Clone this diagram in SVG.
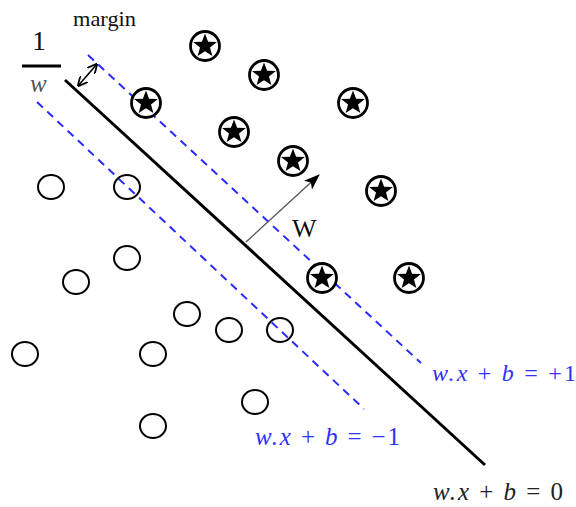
<svg xmlns="http://www.w3.org/2000/svg" width="576" height="507" viewBox="0 0 576 507">
<style>
.pos{fill:#fff;stroke:#000;stroke-width:2.8}
.neg{fill:none;stroke:#000;stroke-width:2}
.dash{stroke:#2a2aff;stroke-width:2;stroke-dasharray:8 6;fill:none}
.serif{font-family:"Liberation Serif","Times New Roman",serif}
.it{font-style:italic}
.blue{fill:#3030ff}
</style>
<defs>
<g id="star">
<circle r="14.5" class="pos"/>
<path d="M0,-12.5 L3.1,-4.2 L11.9,-3.9 L5,1.6 L7.35,10.1 L0,5.2 L-7.35,10.1 L-5,1.6 L-11.9,-3.9 L-3.1,-4.2 Z" fill="#000"/>
</g>
<marker id="ah" viewBox="0 0 16 12" refX="15" refY="6" markerWidth="16" markerHeight="12" markerUnits="userSpaceOnUse" orient="auto">
<path d="M0,0 L16,6 L0,12 L4,6 Z" fill="#000"/>
</marker>
<marker id="mh" viewBox="0 0 10 10" refX="9.5" refY="5" markerWidth="10" markerHeight="10" markerUnits="userSpaceOnUse" orient="auto-start-reverse">
<path d="M0,0 L10,5 L0,10" fill="none" stroke="#000" stroke-width="1.8"/>
</marker>
</defs>
<rect width="576" height="507" fill="#fff"/>
<g id="connectors">
<line x1="65" y1="80" x2="485" y2="465" stroke="#000" stroke-width="3"/>
<line class="dash" x1="88" y1="55" x2="421" y2="363"/>
<line class="dash" x1="37" y1="102" x2="364" y2="409"/>
<line id="w-arrow" x1="246" y1="242" x2="319" y2="175" stroke="#555" stroke-width="1.3" marker-end="url(#ah)"/>
<line id="margin-arrow" x1="78" y1="86" x2="97" y2="64" stroke="#000" stroke-width="1.6" marker-start="url(#mh)" marker-end="url(#mh)"/>
</g>
<g id="positives">
<use href="#star" x="205" y="46"/>
<use href="#star" x="264" y="75"/>
<use href="#star" x="146" y="103"/>
<use href="#star" x="353" y="103"/>
<use href="#star" x="234" y="132"/>
<use href="#star" x="293" y="161"/>
<use href="#star" x="381" y="191"/>
<use href="#star" x="322" y="278"/>
<use href="#star" x="409" y="278"/>
</g>
<g id="negatives">
<ellipse class="neg" cx="51" cy="187" rx="13" ry="12"/>
<ellipse class="neg" cx="127" cy="187" rx="13" ry="12"/>
<ellipse class="neg" cx="127" cy="258" rx="13" ry="12"/>
<ellipse class="neg" cx="76" cy="282" rx="13" ry="12"/>
<ellipse class="neg" cx="187" cy="314" rx="13" ry="12"/>
<ellipse class="neg" cx="229" cy="330" rx="13" ry="12"/>
<ellipse class="neg" cx="280" cy="330" rx="13" ry="12"/>
<ellipse class="neg" cx="25" cy="354" rx="13" ry="12"/>
<ellipse class="neg" cx="153" cy="354" rx="13" ry="12"/>
<ellipse class="neg" cx="255" cy="402" rx="13" ry="12"/>
<ellipse class="neg" cx="153" cy="426" rx="13" ry="12"/>
</g>
<g id="margin-label">
<text class="serif" x="73" y="26" font-size="21" fill="#111" textLength="63" lengthAdjust="spacingAndGlyphs">margin</text>
<text class="serif" x="32" y="50" font-size="28" fill="#111">1</text>
<line x1="22" y1="66" x2="61" y2="66" stroke="#000" stroke-width="3"/>
<text class="serif it" x="30" y="92" font-size="25" fill="#555">w</text>
</g>
<g id="w-label">
<text class="serif" x="292" y="237" font-size="26" fill="#111">W</text>
</g>
<g id="eq-plus">
<text class="serif blue" x="432" y="381" font-size="24" textLength="144" lengthAdjust="spacing"><tspan class="it">w.x</tspan> + <tspan class="it">b</tspan> = +1</text>
</g>
<g id="eq-minus">
<text class="serif blue" x="255" y="445" font-size="25" textLength="145" lengthAdjust="spacing"><tspan class="it">w.x</tspan> + <tspan class="it">b</tspan> = −1</text>
</g>
<g id="eq-zero">
<text class="serif" x="433" y="500" font-size="25" fill="#222" textLength="130" lengthAdjust="spacing"><tspan class="it">w.x</tspan> + <tspan class="it">b</tspan> = 0</text>
</g>
</svg>
